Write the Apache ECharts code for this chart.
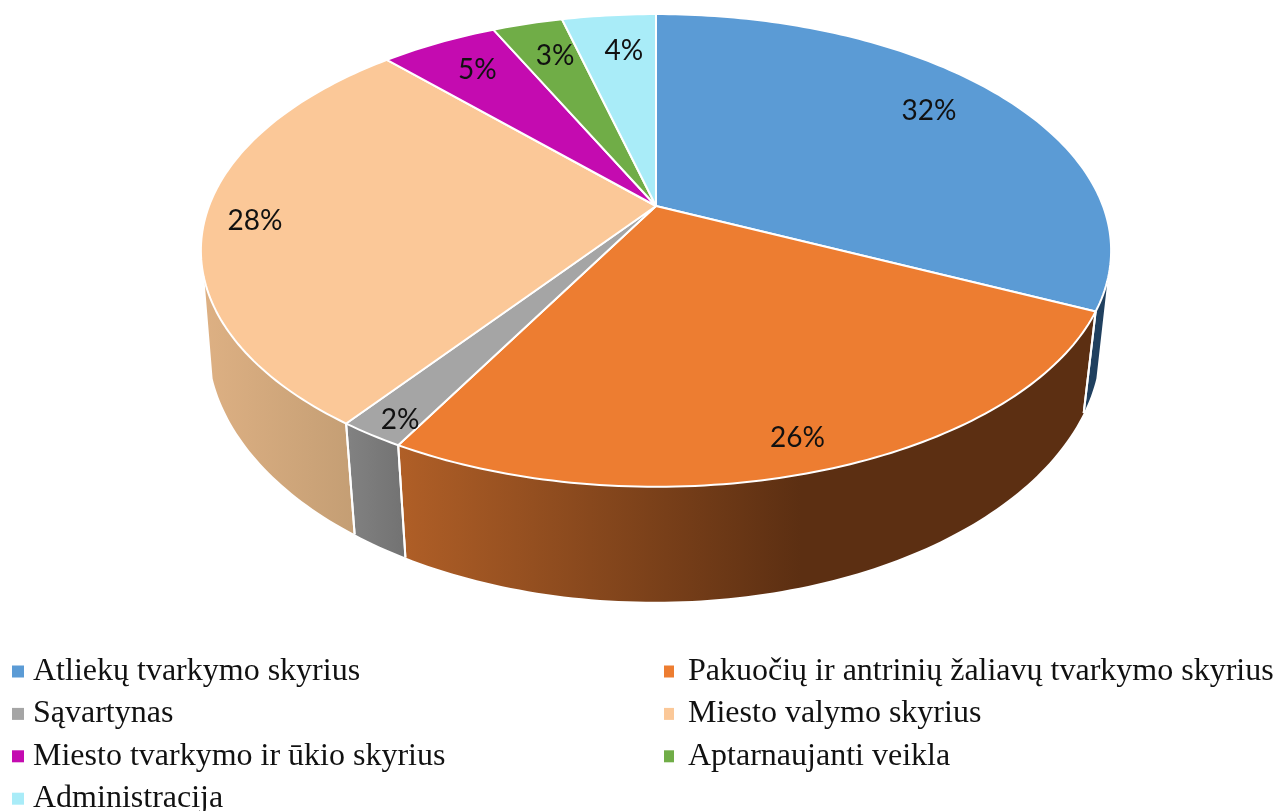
<!DOCTYPE html>
<html><head><meta charset="utf-8">
<style>html,body{margin:0;padding:0;background:#fff}#c{width:1278px;height:811px}</style>
<script src="https://cdn.jsdelivr.net/npm/echarts@6/dist/echarts.min.js"></script>
</head><body><div id="c"></div>
<script>
const categories = ['Atliekų tvarkymo skyrius','Pakuočių ir antrinių žaliavų tvarkymo skyrius','Sąvartynas','Miesto valymo skyrius','Miesto tvarkymo ir ūkio skyrius','Aptarnaujanti veikla','Administracija'];
const values = [32,26,2,28,5,3,4];
const topColors = ['#5B9BD5','#ED7D31','#A5A5A5','#FBC898','#C40BB0','#70AD47','#A9ECF8'];
const wallStops = [
  [[0,'#20405F'],[1,'#20405F']],
  [[0,'#B05F27'],[0.577,'#5C2F12'],[1,'#5C2F12']],
  [[0,'#828282'],[1,'#727272']],
  [[0,'#DDB083'],[1,'#C49E74']],
  null,null,null
];
const labelRadii = [0.808,0.89,0.93,0.889,0.814,0.80,0.79];
const labelAngleShift = [-2.4,0.6,-0.8,-0.3,0.6,1,1.2];
const leftLegend = [categories[0],categories[2],categories[4],categories[6]];
const rightLegend = [categories[1],categories[3],categories[5]];

// projection of the tilted disc: top face and bottom rim
const topFace = {cx:656, cy:206, a:447, b:228, k:-0.188};
const bottomRim = {cx:654.5, cy:297, a:440, b:253, k:-0.17};
const project = (p, t, r) => {
  const X = r*Math.sin(t), Y = -r*Math.cos(t), d = 1 + p.k*Y;
  return [p.cx + p.a*X/d, p.cy + p.b*Y/d];
};
const rad = d => d*Math.PI/180;
const WALL_FROM_RIGHT = 107.8, WALL_TO_LEFT = 252.2;
const total = values.reduce((a,b)=>a+b,0);
let acc = 0;
const starts = values.map(v => { const s = acc; acc += v; return s; });

function arcPts(p, d0, d1){
  const n = Math.max(2, Math.ceil(Math.abs(d1-d0)));
  const out = [];
  for(let i=0;i<=n;i++) out.push(project(p, rad(d0+(d1-d0)*i/n), 1));
  return out;
}
function render(i){
  return function(){
    const d0 = starts[i]/total*360, d1 = (starts[i]+values[i])/total*360;
    const children = [];
    const w0 = Math.max(d0, WALL_FROM_RIGHT), w1 = Math.min(d1, WALL_TO_LEFT);
    if (w1 > w0 && wallStops[i]) {
      const pts = arcPts(topFace,w0,w1).concat(arcPts(bottomRim,w1,w0));
      children.push({type:'polygon', z2:1, shape:{points:pts},
        style:{fill:new echarts.graphic.LinearGradient(0,0,1,0,wallStops[i].map(s=>({offset:s[0],color:s[1]})))}});
      [d0,d1].forEach(d=>{
        if (d>=WALL_FROM_RIGHT && d<=WALL_TO_LEFT)
          children.push({type:'polyline', z2:2, shape:{points:[project(topFace,rad(d),1),project(bottomRim,rad(d),1)]},
            style:{stroke:'#fff',lineWidth:2,fill:null}});
      });
    }
    const topPts = [project(topFace,0,0)].concat(arcPts(topFace,d0,d1));
    children.push({type:'polygon', z2:5, shape:{points:topPts},
      style:{fill:topColors[i],stroke:'#fff',lineWidth:2,lineJoin:'round'}});
    const lp = project(topFace, rad((d0+d1)/2+labelAngleShift[i]), labelRadii[i]);
    children.push({type:'text', z2:10, style:{text:values[i]+'%',x:lp[0],y:lp[1]+1.5,align:'center',verticalAlign:'middle',
      fill:'#111',font:'28px Lato'}});
    return {type:'group',children};
  };
}
const legendBase = {orient:'vertical',itemHeight:12,icon:'rect',selectedMode:false,padding:0,height:220,width:620,top:655,itemGap:9.4};
const legendText = {fontFamily:'Liberation Serif',fontSize:32,color:'#111',lineHeight:33};
const option = {
  animation:false,
  backgroundColor:'#fff',
  legend:[
    Object.assign({},legendBase,{data:leftLegend,left:12,itemWidth:12,textStyle:Object.assign({},legendText,{padding:[0,0,0,4]})}),
    Object.assign({},legendBase,{data:rightLegend,left:664,itemWidth:10,textStyle:Object.assign({},legendText,{padding:[0,0,0,9]})})
  ],
  series:categories.map((name,i)=>({
    type:'custom',name,coordinateSystem:'none',silent:true,
    itemStyle:{color:topColors[i]},
    data:[[values[i]]],
    renderItem:render(i)
  }))
};
echarts.init(document.getElementById('c')).setOption(option);
</script></body></html>
